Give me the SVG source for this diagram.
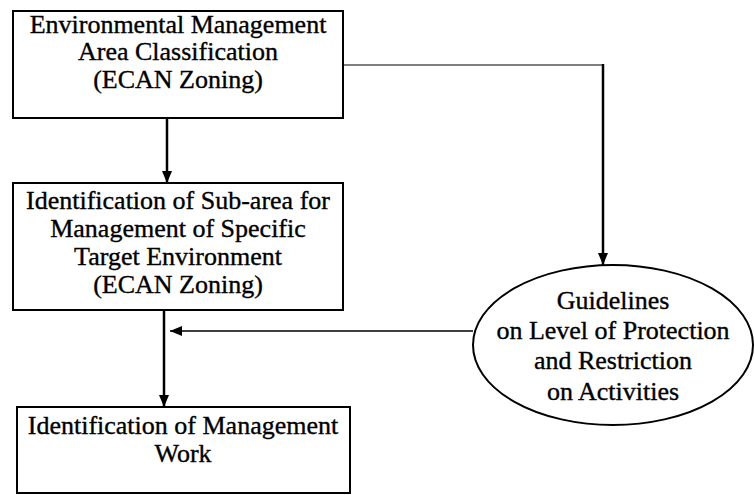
<svg xmlns="http://www.w3.org/2000/svg" width="754" height="495" viewBox="0 0 754 495">
<style>
.box{fill:#fff;stroke:#000;stroke-width:2}
.t{font-family:"Liberation Serif","Times New Roman",serif;font-size:26px;fill:#000;stroke:#000;stroke-width:0.35;text-anchor:middle}
.c{fill:none;stroke:#000}
</style>
<defs>
<marker id="ah" viewBox="0 0 12 10" refX="12" refY="5" markerWidth="12" markerHeight="10" markerUnits="userSpaceOnUse" orient="auto">
<path d="M0,0 L12,5 L0,10 Z" fill="#000"/>
</marker>
</defs>
<rect width="754" height="495" fill="#fff"/>
<g id="n1">
<rect class="box" x="13" y="11" width="330" height="107"/>
<text class="t"><tspan x="178" y="33">Environmental Management</tspan><tspan x="178" y="60">Area Classification</tspan><tspan x="178" y="88">(ECAN Zoning)</tspan></text>
</g>
<g id="n2">
<rect class="box" x="13" y="183" width="330" height="127"/>
<text class="t"><tspan x="178" y="209">Identification of Sub-area for</tspan><tspan x="178" y="237">Management of Specific</tspan><tspan x="178" y="265">Target Environment</tspan><tspan x="178" y="293">(ECAN Zoning)</tspan></text>
</g>
<g id="n3">
<rect class="box" x="17" y="407" width="333" height="86"/>
<text class="t"><tspan x="183" y="434">Identification of Management</tspan><tspan x="183" y="462">Work</tspan></text>
</g>
<g id="n4">
<ellipse class="box" cx="613" cy="345" rx="140" ry="80"/>
<text class="t"><tspan x="613" y="309">Guidelines</tspan><tspan x="613" y="339">on Level of Protection</tspan><tspan x="613" y="369">and Restriction</tspan><tspan x="613" y="400">on Activities</tspan></text>
</g>
<g id="connectors">
<line class="c" x1="167" y1="118" x2="167" y2="183" stroke-width="2.5" marker-end="url(#ah)"/>
<line class="c" x1="164" y1="310" x2="164" y2="407" stroke-width="2.5" marker-end="url(#ah)"/>
<polyline class="c" points="343,65 603,65" stroke-width="1.2"/>
<line class="c" x1="603" y1="64" x2="603" y2="265" stroke-width="2.5" marker-end="url(#ah)"/>
<line class="c" x1="473" y1="331" x2="170" y2="331" stroke-width="1.5" marker-end="url(#ah)"/>
</g>
</svg>
